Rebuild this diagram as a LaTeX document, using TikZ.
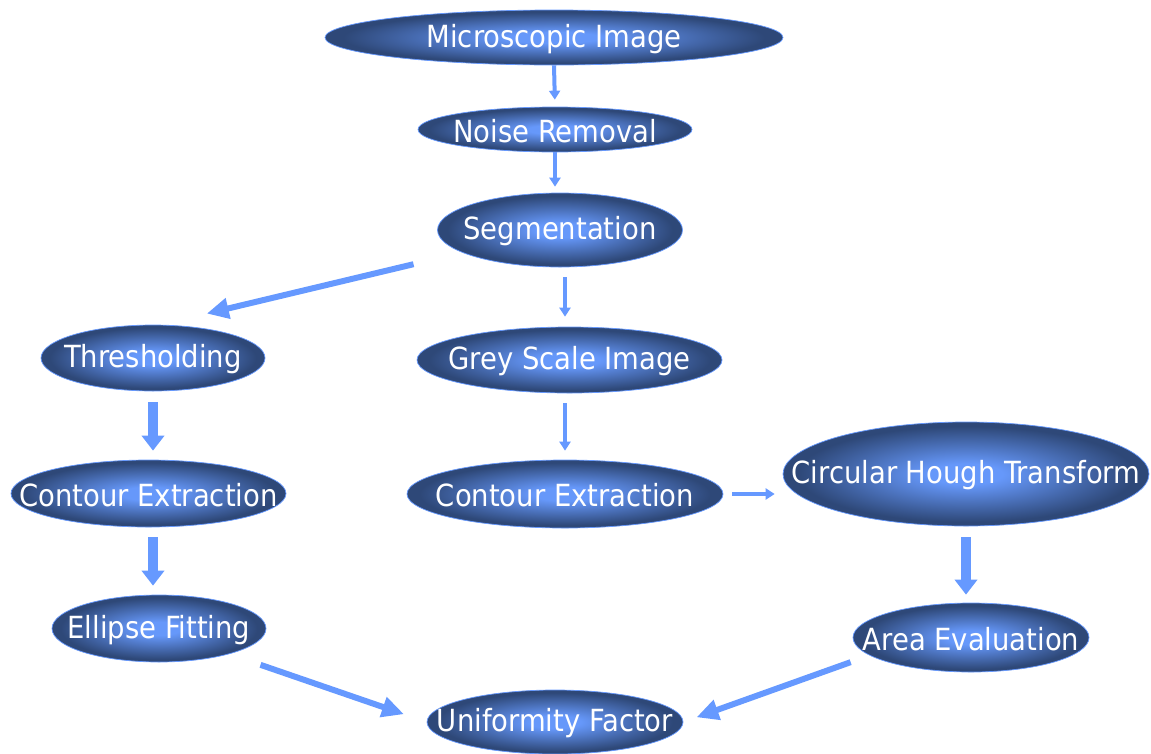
\documentclass[tikz,border=0pt]{standalone}
\usepackage{fontspec}
\setmainfont{DejaVu Sans Condensed}
\usetikzlibrary{shapes.geometric,arrows.meta}
\definecolor{shin}{HTML}{6698FA}
\definecolor{shout}{HTML}{2E4878}
\definecolor{arrowblue}{HTML}{6699FF}
\pgfdeclareradialshading{procshade}{\pgfpoint{0bp}{0bp}}{color(0bp)=(shin); color(5bp)=(shin); color(23bp)=(shout); color(25bp)=(shout); color(50bp)=(shout)}
\tikzset{
  proc/.style={ellipse, inner sep=0pt, shading=procshade, draw=arrowblue, line width=0.7pt,
    label={[text=white, font=\fontsize{30.5}{31}\selectfont, yshift=-1.5pt]center:#1}},
  thinarrow/.style={draw=arrowblue, line width=4pt, -{Triangle[length=9pt,width=11pt]}},
  fatarrow/.style={draw=arrowblue, line width=10pt, -{Triangle[length=15pt,width=22pt]}},
  diagarrow/.style={draw=arrowblue, line width=6pt, -{Triangle[length=22pt,width=20pt]}}
}
\begin{document}
\begin{tikzpicture}[x=1pt,y=-1pt]
\useasboundingbox (0,0) rectangle (1151,753);

\node[proc={Microscopic Image}, minimum width=458pt, minimum height=55pt] (mic) at (554,37.5) {};
\node[proc={Noise Removal}, minimum width=274pt, minimum height=45pt] (noise) at (555,129.5) {};
\node[proc={Segmentation}, minimum width=245pt, minimum height=74pt] (seg) at (560,230) {};
\node[proc={Thresholding}, minimum width=224pt, minimum height=66pt] (thr) at (153,358) {};
\node[proc={Grey Scale Image}, minimum width=305pt, minimum height=66pt] (grey) at (569.5,360) {};
\node[proc={Contour Extraction}, minimum width=275pt, minimum height=67pt] (ce1) at (148.5,493.5) {};
\node[proc={Contour Extraction}, minimum width=316pt, minimum height=68pt] (ce2) at (565,494) {};
\node[proc={Circular Hough Transform}, minimum width=366pt, minimum height=104pt] (cht) at (966,474) {};
\node[proc={Ellipse Fitting}, minimum width=214pt, minimum height=67pt] (ef) at (159,628.5) {};
\node[proc={Area Evaluation}, minimum width=236pt, minimum height=69pt] (area) at (971,637.5) {};
\node[proc={Uniformity Factor}, minimum width=256pt, minimum height=64pt] (unif) at (555,722) {};

\draw[thinarrow, shorten >=7pt] (mic.south) -- (noise.north);
\draw[thinarrow, shorten >=6pt] (noise.south) -- (noise.south |- seg.north);
\draw[thinarrow, shorten <=10pt, shorten >=10pt] (seg.south -| ce2.north) -- (ce2.north |- grey.north);
\draw[thinarrow, shorten <=10pt, shorten >=9pt] (grey.south -| ce2.north) -- (ce2.north);
\draw[thinarrow, shorten <=9pt, shorten >=8pt] (ce2.east) -- (ce2.east -| cht.west);
\draw[fatarrow, shorten <=11pt, shorten >=9pt] (thr.south) -- (thr.south |- ce1.north);
\draw[fatarrow, shorten <=10pt, shorten >=9pt] (ce1.south -| thr.south) -- (thr.south |- ef.north);
\draw[fatarrow, shorten <=11pt, shorten >=8pt] (cht.south) -- (cht.south |- area.north);
\draw[diagarrow, shorten <=50pt, shorten >=48pt] (seg.193) -- (thr.78);
\draw[diagarrow, shorten <=33pt, shorten >=24pt] (ef.-20) -- (unif.west);
\draw[diagarrow, shorten <=20pt, shorten >=14pt] (area.190) -- (unif.east);
\end{tikzpicture}
\end{document}
